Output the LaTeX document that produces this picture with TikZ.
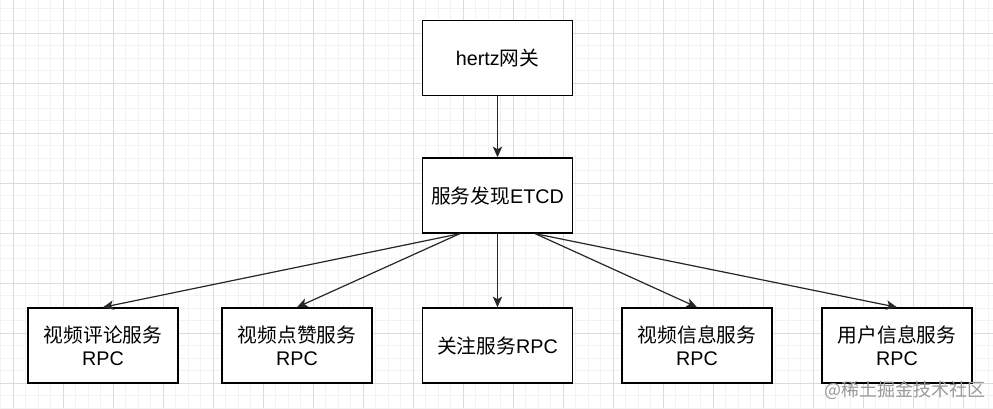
\documentclass[tikz,border=0pt]{standalone}
\usepackage{fontspec}
\setmainfont{Liberation Sans}
\newfontfamily\cjk{Noto Sans CJK SC}
\usetikzlibrary{arrows.meta,calc}
\begin{document}
\begin{tikzpicture}[x=0.75pt,y=-0.75pt,
  box/.style={draw=black,line width=1.1pt,fill=white,minimum width=112.5pt,minimum height=56.25pt,inner sep=0pt,align=center,font=\fontsize{14.8}{17.5}\selectfont},
  conn/.style={draw=black!85,line width=0.9pt,-{Stealth[length=8pt,width=7pt,inset=2pt]}},
  minorline/.style={draw=black!5,line width=0.75pt},
  majorline/.style={draw=black!14,line width=0.75pt}]
\fill[white] (0,0) rectangle (993,408);
\useasboundingbox (0,0) rectangle (993,408);
\foreach \i in {0,...,79} \draw[minorline] (0.5+12.5*\i,0) -- (0.5+12.5*\i,408);
\foreach \i in {0,...,33} \draw[minorline] (0,8+12.5*\i) -- (993,8+12.5*\i);
\foreach \i in {0,...,19} \draw[majorline] (13+50*\i,0) -- (13+50*\i,408);
\foreach \i in {0,...,8} \draw[majorline] (0,33+50*\i) -- (993,33+50*\i);
\node[box] (hertz) at (497.5,58) {hertz{\cjk 网关}};
\node[box] (etcd) at (497.5,195.5) {{\cjk 服务发现}ETCD};
\node[box] (b1) at (103,345.5) {{\cjk 视频评论服务}\\RPC};
\node[box] (b2) at (297,345.5) {{\cjk 视频点赞服务}\\RPC};
\node[box] (b3) at (497.5,345.5) {{\cjk 关注服务}RPC};
\node[box] (b4) at (697,345.5) {{\cjk 视频信息服务}\\RPC};
\node[box] (b5) at (897,345.5) {{\cjk 用户信息服务}\\RPC};
\coordinate (eL) at ($(etcd.south west)!0.25!(etcd.south east)$);
\coordinate (eR) at ($(etcd.south west)!0.75!(etcd.south east)$);
\draw[conn] (hertz.south) -- (etcd.north);
\draw[conn] (eL) -- (b1.north);
\draw[conn] (eL) -- (b2.north);
\draw[conn] (etcd.south) -- (b3.north);
\draw[conn] (eR) -- (b4.north);
\draw[conn] (eR) -- (b5.north);
\node[text=black!40,font=\cjk\fontsize{13.5}{16}\selectfont,inner sep=0pt,anchor=east] (wm) at (986,390) {@稀土掘金技术社区};
\end{tikzpicture}
\end{document}
